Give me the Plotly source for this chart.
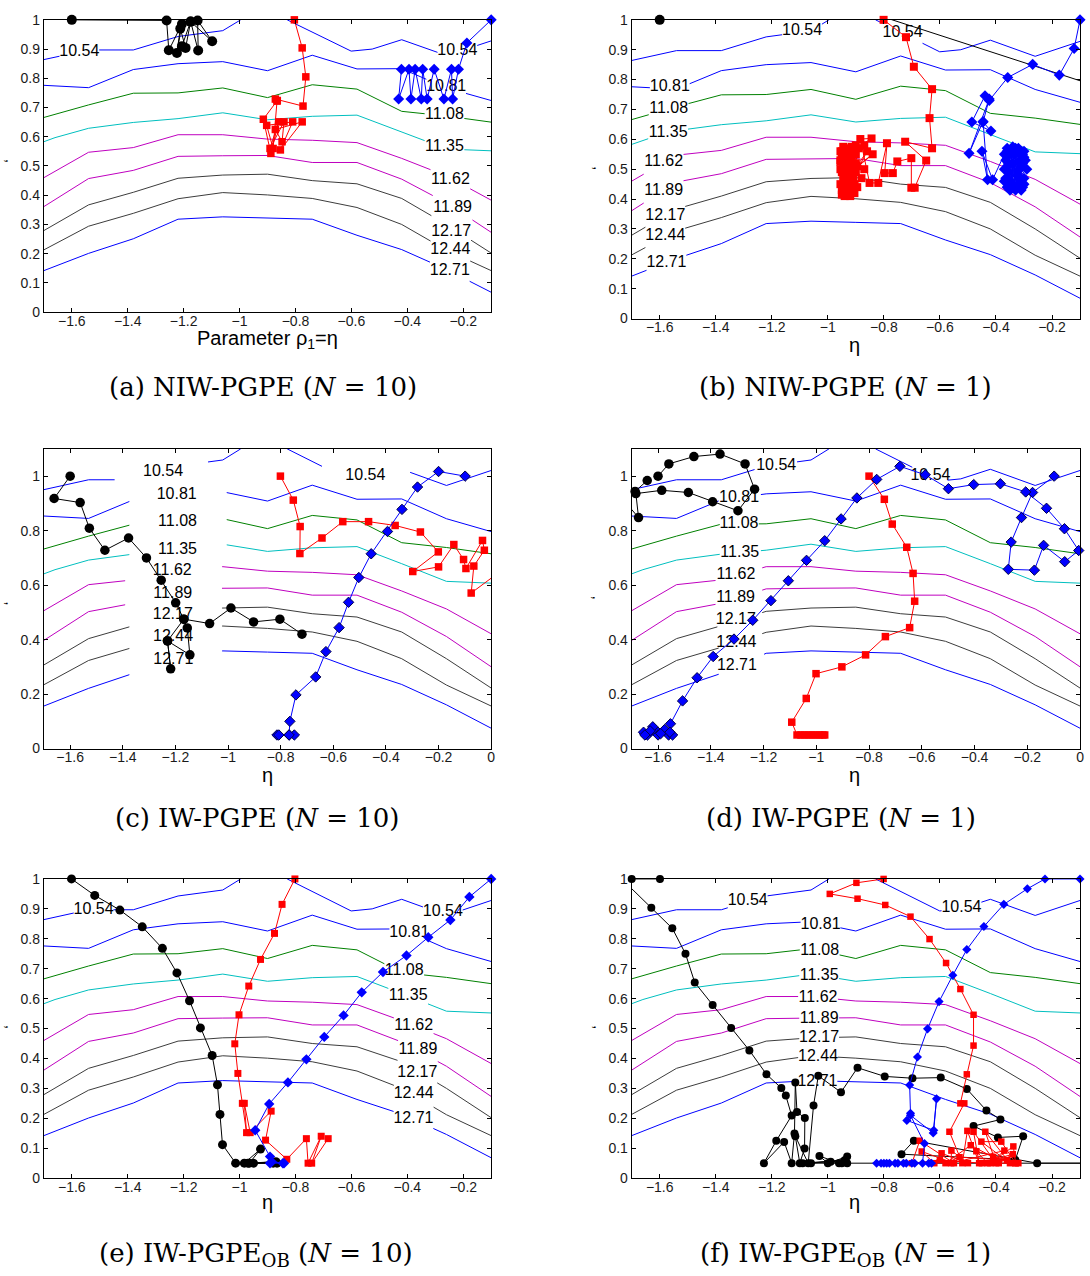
import numpy as np
import plotly.graph_objects as go

W, H = 1090, 1276

# ---------------------------------------------------------------- cost surface
LEVELS = [10.54, 10.81, 11.08, 11.35, 11.62, 11.89, 12.17, 12.44, 12.71]
LEVEL_COLORS = ["#0000ff", "#0000ff", "#008000", "#00bfbf", "#bf00bf",
                "#bf00bf", "#3c3c3c", "#3c3c3c", "#0000ff"]

# contour branches on the 11-column evaluation grid:
# (level index, grid column, fraction of the sigma span)
COLS = list(range(11))
CONTOUR_BRANCHES = [
    (0, [0, 1, 2, 3, 4, 4.4], [0.864, 0.897, 0.897, 0.943, 0.963, 1.0]),
    (0, [5.44, 6.87, 7.34, 8, 9, 10], [1.0, 0.893, 0.900, 0.932, 0.878, 0.928]),
    (1, COLS, [0.776, 0.768, 0.830, 0.850, 0.857, 0.826, 0.879, 0.832, 0.833, 0.767, 0.724]),
    (2, COLS, [0.666, 0.709, 0.749, 0.750, 0.767, 0.734, 0.778, 0.763, 0.687, 0.671, 0.650]),
    (3, [0, 0.25, 1, 2, 3, 4, 5, 6, 7, 8, 9, 10],
        [0.583, 0.597, 0.629, 0.649, 0.662, 0.682, 0.658, 0.670, 0.674, 0.617, 0.558, 0.552]),
    (4, COLS, [0.460, 0.547, 0.563, 0.607, 0.607, 0.592, 0.588, 0.580, 0.526, 0.466, 0.383]),
    (5, COLS, [0.361, 0.457, 0.485, 0.533, 0.535, 0.536, 0.512, 0.512, 0.455, 0.374, 0.273]),
    (6, COLS, [0.279, 0.367, 0.410, 0.458, 0.469, 0.472, 0.450, 0.439, 0.389, 0.300, 0.202]),
    (7, COLS, [0.213, 0.294, 0.338, 0.388, 0.409, 0.401, 0.389, 0.358, 0.300, 0.212, 0.142]),
    (8, COLS, [0.142, 0.201, 0.251, 0.318, 0.326, 0.322, 0.318, 0.263, 0.214, 0.146, 0.068]),
]

# contour labels: (level index, eta, sigma)
A_LABELS = [(0, -1.573, 0.889), (0, -0.221, 0.893), (1, -0.261, 0.769), (2, -0.267, 0.673),
            (3, -0.267, 0.564), (4, -0.246, 0.452), (5, -0.238, 0.355), (6, -0.243, 0.275),
            (7, -0.246, 0.213), (8, -0.248, 0.141)]
B_LABELS = [(0, -1.092, 0.964), (0, -0.733, 0.956), (1, -1.564, 0.774), (2, -1.568, 0.700),
            (3, -1.570, 0.620), (4, -1.586, 0.523), (5, -1.586, 0.427), (6, -1.580, 0.344),
            (7, -1.580, 0.276), (8, -1.576, 0.187)]
C_LABELS = [(0, -1.247, 1.017), (0, -0.478, 1.002), (1, -1.195, 0.930), (2, -1.192, 0.830),
            (3, -1.192, 0.728), (4, -1.212, 0.650), (5, -1.210, 0.568), (6, -1.210, 0.489),
            (7, -1.209, 0.411), (8, -1.208, 0.326)]
D_LABELS = [(0, -1.152, 1.036), (0, -0.567, 1.002), (1, -1.293, 0.920), (2, -1.293, 0.825),
            (3, -1.290, 0.719), (4, -1.305, 0.636), (5, -1.306, 0.553), (6, -1.305, 0.471),
            (7, -1.303, 0.389), (8, -1.301, 0.304)]
E_LABELS = [(0, -1.522, 0.895), (0, -0.273, 0.888), (1, -0.393, 0.818), (2, -0.411, 0.691),
            (3, -0.397, 0.610), (4, -0.377, 0.507), (5, -0.362, 0.428), (6, -0.364, 0.353),
            (7, -0.377, 0.281), (8, -0.378, 0.196)]
F_LABELS = [(0, -1.286, 0.926), (0, -0.523, 0.902), (1, -1.026, 0.847), (2, -1.029, 0.759),
            (3, -1.031, 0.676), (4, -1.035, 0.603), (5, -1.031, 0.533), (6, -1.031, 0.469),
            (7, -1.035, 0.405), (8, -1.037, 0.320)]

# wider inline-label gaps of the coarse IW grid: level -> [(eta_from, eta_to)]
C_GAPS = {0: [(-1.431, -1.076), (-0.643, -0.308)], 1: [(-1.375, -1.005)],
          2: [(-1.375, -1.005)], 3: [(-1.375, -1.005)], 4: [(-1.391, -1.023)],
          5: [(-1.391, -1.023)], 6: [(-1.375, -1.023)], 7: [(-1.375, -1.023)],
          8: [(-1.375, -1.023)]}
D_GAPS = {0: [(-1.234, -1.073), (-0.636, -0.502)], 1: [(-1.370, -1.210)],
          2: [(-1.366, -1.218)], 3: [(-1.366, -1.210)], 4: [(-1.382, -1.205)],
          5: [(-1.382, -1.205)], 6: [(-1.375, -1.205)], 7: [(-1.370, -1.205)],
          8: [(-1.370, -1.198)]}

# ---------------------------------------------------------------- trajectories (eta, sigma)
A_BLACK = [(-1.600, 1.000), (-1.261, 0.998), (-1.253, 0.896), (-1.206, 0.986), (-1.224, 0.887),
           (-1.212, 0.970), (-1.193, 0.904), (-1.175, 0.994), (-1.148, 0.895), (-1.150, 0.998),
           (-1.098, 0.927), (-1.175, 0.994), (-1.206, 0.910)]
A_RED = [(-0.804, 1.000), (-0.776, 0.904), (-0.763, 0.805), (-0.773, 0.705), (-0.872, 0.729),
         (-0.865, 0.724), (-0.915, 0.660), (-0.888, 0.543), (-0.860, 0.651), (-0.891, 0.560),
         (-0.841, 0.651), (-0.848, 0.583), (-0.872, 0.625), (-0.776, 0.651), (-0.854, 0.555),
         (-0.810, 0.651), (-0.903, 0.639), (-0.880, 0.560), (-0.866, 0.722)]
A_BLUE = [(-0.100, 1.000), (-0.187, 0.921), (-0.217, 0.831), (-0.238, 0.729), (-0.242, 0.831),
          (-0.269, 0.729), (-0.304, 0.831), (-0.329, 0.729), (-0.345, 0.831), (-0.350, 0.729),
          (-0.372, 0.831), (-0.387, 0.729), (-0.394, 0.831), (-0.431, 0.729), (-0.421, 0.831)]

B_BLACK = [(-1.600, 1.000), (-1.000, 1.070), (0.150, 0.720)]
B_RED = [(-0.801, 1.000), (-0.721, 0.942), (-0.693, 0.843), (-0.628, 0.768), (-0.637, 0.671),
         (-0.628, 0.570), (-0.724, 0.592), (-0.649, 0.529), (-0.690, 0.438), (-0.702, 0.438),
         (-0.702, 0.537), (-0.752, 0.526), (-0.768, 0.487), (-0.797, 0.487), (-0.789, 0.587),
         (-0.820, 0.454), (-0.851, 0.454), (-0.884, 0.601), (-0.844, 0.603), (-0.930, 0.550),
         (-0.950, 0.430), (-0.910, 0.560), (-0.940, 0.410), (-0.900, 0.520), (-0.955, 0.500),
         (-0.920, 0.440), (-0.890, 0.570), (-0.945, 0.470), (-0.905, 0.420), (-0.935, 0.570),
         (-0.870, 0.500), (-0.950, 0.540), (-0.915, 0.460), (-0.860, 0.560), (-0.940, 0.450),
         (-0.900, 0.580), (-0.925, 0.420), (-0.880, 0.470), (-0.950, 0.560), (-0.910, 0.500),
         (-0.840, 0.550), (-0.930, 0.480), (-0.895, 0.440), (-0.945, 0.520), (-0.870, 0.580),
         (-0.920, 0.530), (-0.955, 0.450), (-0.900, 0.490), (-0.930, 0.420), (-0.915, 0.545),
         (-0.950, 0.415), (-0.925, 0.505), (-0.945, 0.575), (-0.955, 0.530), (-0.930, 0.510),
         (-0.915, 0.430), (-0.945, 0.430), (-0.900, 0.550), (-0.935, 0.460), (-0.955, 0.560),
         (-0.910, 0.470), (-0.940, 0.540), (-0.925, 0.565), (-0.905, 0.450), (-0.950, 0.490),
         (-0.920, 0.410), (-0.935, 0.520), (-0.895, 0.510), (-0.945, 0.440), (-0.915, 0.575),
         (-0.930, 0.445), (-0.955, 0.525)]
B_BLUE = [(-0.100, 1.000), (-0.121, 0.904), (-0.174, 0.815), (-0.269, 0.851), (-0.358, 0.807),
          (-0.424, 0.730), (-0.439, 0.746), (-0.486, 0.658), (-0.418, 0.628), (-0.446, 0.658),
          (-0.424, 0.735), (-0.496, 0.553), (-0.446, 0.660), (-0.430, 0.465), (-0.450, 0.560),
          (-0.412, 0.465), (-0.370, 0.550), (-0.350, 0.430), (-0.330, 0.570), (-0.360, 0.440),
          (-0.310, 0.560), (-0.340, 0.450), (-0.300, 0.540), (-0.350, 0.460), (-0.320, 0.570),
          (-0.365, 0.470), (-0.305, 0.550), (-0.330, 0.430), (-0.295, 0.530), (-0.345, 0.560),
          (-0.315, 0.440), (-0.360, 0.560), (-0.300, 0.470), (-0.340, 0.520), (-0.320, 0.450),
          (-0.370, 0.500), (-0.310, 0.430), (-0.350, 0.550), (-0.325, 0.480), (-0.300, 0.560),
          (-0.355, 0.520), (-0.315, 0.500), (-0.360, 0.570), (-0.335, 0.440), (-0.305, 0.520),
          (-0.370, 0.460), (-0.310, 0.545), (-0.345, 0.435), (-0.325, 0.560), (-0.355, 0.490),
          (-0.300, 0.450), (-0.340, 0.575), (-0.365, 0.530), (-0.315, 0.465), (-0.335, 0.550),
          (-0.290, 0.500), (-0.350, 0.445), (-0.320, 0.525), (-0.360, 0.510), (-0.305, 0.440)]

C_BLACK = [(-1.600, 1.000), (-1.661, 0.918), (-1.562, 0.903), (-1.527, 0.809), (-1.468, 0.728),
           (-1.378, 0.773), (-1.310, 0.700), (-1.254, 0.618), (-1.199, 0.535), (-1.168, 0.475),
           (-1.155, 0.443), (-1.145, 0.344), (-1.230, 0.395), (-1.218, 0.293), (-1.230, 0.395),
           (-1.168, 0.475), (-1.070, 0.459), (-0.989, 0.516), (-0.903, 0.465), (-0.803, 0.475),
           (-0.719, 0.420)]
C_RED = [(-0.801, 1.000), (-0.752, 0.912), (-0.726, 0.815), (-0.727, 0.716), (-0.643, 0.773),
         (-0.564, 0.833), (-0.466, 0.833), (-0.365, 0.819), (-0.269, 0.795), (-0.201, 0.722),
         (-0.298, 0.650), (-0.200, 0.667), (-0.142, 0.749), (-0.105, 0.694), (-0.096, 0.661),
         (-0.033, 0.764), (-0.026, 0.728), (-0.066, 0.670), (-0.076, 0.571), (0.020, 0.640)]
C_BLUE = [(-0.099, 1.000), (-0.200, 1.017), (-0.280, 0.960), (-0.339, 0.878), (-0.394, 0.797),
          (-0.456, 0.715), (-0.503, 0.628), (-0.542, 0.537), (-0.578, 0.444), (-0.628, 0.356),
          (-0.667, 0.263), (-0.742, 0.197), (-0.765, 0.100), (-0.768, 0.050), (-0.814, 0.050),
          (-0.748, 0.050), (-0.807, 0.050), (-0.768, 0.050)]

D_BLACK = [(-1.600, 1.000), (-1.559, 1.045), (-1.464, 1.072), (-1.365, 1.081), (-1.270, 1.045),
           (-1.234, 0.952), (-1.297, 0.873), (-1.393, 0.906), (-1.485, 0.940), (-1.586, 0.948),
           (-1.684, 0.936), (-1.674, 0.848), (-1.720, 0.900), (-1.687, 0.944), (-1.641, 0.984)]
D_RED = [(-0.800, 1.000), (-0.742, 0.915), (-0.712, 0.824), (-0.657, 0.739), (-0.633, 0.643),
         (-0.627, 0.541), (-0.646, 0.444), (-0.738, 0.411), (-0.813, 0.344), (-0.903, 0.300),
         (-1.001, 0.275), (-1.038, 0.184), (-1.093, 0.097), (-1.073, 0.050), (-1.058, 0.050),
         (-1.044, 0.050), (-1.030, 0.050), (-1.016, 0.050), (-1.002, 0.050), (-0.988, 0.050),
         (-0.975, 0.050), (-0.968, 0.050)]
D_BLUE = [(-0.098, 1.000), (-0.180, 0.940), (-0.222, 0.848), (-0.261, 0.758), (-0.272, 0.658),
          (-0.173, 0.655), (-0.138, 0.746), (-0.058, 0.686), (-0.005, 0.727), (-0.059, 0.807),
          (-0.127, 0.882), (-0.206, 0.942), (-0.302, 0.972), (-0.403, 0.969), (-0.499, 0.954),
          (-0.587, 1.005), (-0.683, 1.036), (-0.771, 0.988), (-0.846, 0.920), (-0.906, 0.843),
          (-0.968, 0.763), (-1.037, 0.691), (-1.106, 0.616), (-1.172, 0.543), (-1.241, 0.471),
          (-1.312, 0.402), (-1.391, 0.338), (-1.452, 0.260), (-1.507, 0.175), (-1.553, 0.091),
          (-1.560, 0.050), (-1.600, 0.060), (-1.640, 0.050), (-1.620, 0.080), (-1.655, 0.060),
          (-1.600, 0.050), (-1.575, 0.070), (-1.630, 0.065), (-1.545, 0.050), (-1.650, 0.050),
          (-1.590, 0.055), (-1.555, 0.060)]

E_BLACK = [(-1.601, 1.000), (-1.518, 0.945), (-1.428, 0.896), (-1.348, 0.840), (-1.276, 0.768),
           (-1.224, 0.686), (-1.179, 0.593), (-1.140, 0.502), (-1.098, 0.410), (-1.079, 0.312),
           (-1.070, 0.213), (-1.061, 0.112), (-1.014, 0.050), (-0.983, 0.050), (-0.925, 0.097),
           (-0.965, 0.050), (-0.880, 0.050), (-0.970, 0.050), (-0.870, 0.055), (-0.950, 0.050),
           (-0.866, 0.050)]
E_RED = [(-0.802, 1.000), (-0.848, 0.915), (-0.875, 0.818), (-0.925, 0.731), (-0.967, 0.642),
         (-1.002, 0.546), (-1.017, 0.449), (-1.006, 0.350), (-0.990, 0.250), (-0.975, 0.152),
         (-0.983, 0.250), (-0.962, 0.152), (-0.887, 0.224), (-0.907, 0.127), (-0.831, 0.063),
         (-0.761, 0.132), (-0.755, 0.050), (-0.708, 0.140), (-0.742, 0.050), (-0.683, 0.132)]
E_BLUE = [(-0.100, 1.000), (-0.178, 0.940), (-0.246, 0.863), (-0.325, 0.805), (-0.403, 0.744),
          (-0.487, 0.689), (-0.563, 0.621), (-0.628, 0.544), (-0.697, 0.472), (-0.761, 0.397),
          (-0.827, 0.320), (-0.894, 0.248), (-0.944, 0.160), (-0.891, 0.072), (-0.891, 0.050),
          (-0.841, 0.050), (-0.885, 0.055), (-0.845, 0.050)]

F_BLACK = [(-1.599, 1.000), (-1.700, 1.000), (-1.730, 0.995), (-1.630, 0.904), (-1.555, 0.835),
           (-1.508, 0.750), (-1.475, 0.654), (-1.411, 0.579), (-1.345, 0.502), (-1.280, 0.427),
           (-1.219, 0.347), (-1.166, 0.301), (-1.150, 0.276), (-1.129, 0.209), (-1.184, 0.125),
           (-1.228, 0.050), (-1.156, 0.121), (-1.129, 0.050), (-1.119, 0.149), (-1.116, 0.320),
           (-1.110, 0.221), (-1.082, 0.201), (-1.083, 0.099), (-1.100, 0.050), (-1.116, 0.140),
           (-1.070, 0.050), (-1.051, 0.243), (-1.034, 0.342), (-0.953, 0.287), (-0.894, 0.369),
           (-0.797, 0.340), (-0.698, 0.334), (-0.597, 0.336), (-0.504, 0.298), (-0.434, 0.226),
           (-0.384, 0.196), (-0.480, 0.174), (-0.393, 0.136), (-0.303, 0.140), (-0.331, 0.061),
           (-0.737, 0.080), (-0.693, 0.125), (-0.253, 0.050), (0.020, 0.050), (-0.931, 0.050),
           (-0.931, 0.072), (-1.000, 0.050), (-1.030, 0.074), (-0.960, 0.050), (-1.060, 0.050),
           (-0.940, 0.060), (-1.090, 0.050), (-0.990, 0.055), (-0.950, 0.050)]
F_RED = [(-0.801, 1.000), (-0.898, 0.987), (-0.993, 0.950), (-0.894, 0.934), (-0.795, 0.913),
         (-0.705, 0.874), (-0.637, 0.799), (-0.578, 0.719), (-0.527, 0.632), (-0.480, 0.546),
         (-0.480, 0.443), (-0.504, 0.347), (-0.527, 0.250), (-0.513, 0.250), (-0.566, 0.155),
         (-0.520, 0.050), (-0.502, 0.158), (-0.460, 0.050), (-0.480, 0.155), (-0.400, 0.050),
         (-0.438, 0.155), (-0.350, 0.050), (-0.452, 0.122), (-0.381, 0.122), (-0.330, 0.050),
         (-0.338, 0.106), (-0.420, 0.050), (-0.370, 0.092), (-0.560, 0.050), (-0.559, 0.092),
         (-0.500, 0.050), (-0.594, 0.083), (-0.620, 0.050), (-0.665, 0.089), (-0.550, 0.050),
         (-0.672, 0.125), (-0.700, 0.050), (-0.600, 0.060), (-0.450, 0.050), (-0.340, 0.080),
         (-0.390, 0.050), (-0.320, 0.050), (-0.470, 0.090), (-0.430, 0.050), (-0.360, 0.060),
         (-0.530, 0.070), (-0.580, 0.050), (-0.490, 0.110), (-0.410, 0.070), (-0.330, 0.050)]
F_BLUE = [(-0.100, 1.000), (-0.225, 1.000), (-0.288, 0.967), (-0.372, 0.915), (-0.443, 0.841),
          (-0.504, 0.764), (-0.554, 0.678), (-0.603, 0.590), (-0.644, 0.499), (-0.680, 0.405),
          (-0.708, 0.311), (-0.705, 0.217), (-0.718, 0.193), (-0.622, 0.160), (-0.612, 0.265),
          (-0.624, 0.151), (-0.705, 0.210), (-0.655, 0.116), (-0.662, 0.050), (-0.700, 0.050),
          (-0.750, 0.050), (-0.800, 0.050), (-0.826, 0.050), (-0.780, 0.050), (-0.720, 0.050),
          (-0.760, 0.050), (-0.690, 0.050), (-0.810, 0.050), (-0.640, 0.050), (-0.730, 0.050),
          (-0.790, 0.050), (-0.630, 0.050)]

CAPTIONS = ["(a) NIW-PGPE (<i>N</i> = 10)", "(b) NIW-PGPE (<i>N</i> = 1)",
            "(c) IW-PGPE (<i>N</i> = 10)", "(d) IW-PGPE (<i>N</i> = 1)",
            "(e) IW-PGPE<sub>OB</sub> (<i>N</i> = 10)", "(f) IW-PGPE<sub>OB</sub> (<i>N</i> = 1)"]
X_TITLES = ["Parameter ρ<sub>1</sub>=η", "η", "η", "η", "η", "η"]


# ---------------------------------------------------------------- layout helpers
def px_x(x):
    return x / W


def px_y(y):
    return 1 - y / H


LEFT_DOM = [px_x(44), px_x(493)]
RIGHT_DOM = [px_x(634), px_x(1084)]

PANELS = [
    dict(labels=A_LABELS, gaps=None, black=A_BLACK, red=A_RED, blue=A_BLUE,
         eta=(-1.7, -0.1), smax=1.0, ydtick=0.1, xdom=LEFT_DOM, ydom=[px_y(308), px_y(12)],
         sizes=(10, 7.5, 8.5), edge=None, cap=(264, 384), xt=(268, 336), yl=(11, 155)),
    dict(labels=B_LABELS, gaps=None, black=B_BLACK, red=B_RED, blue=B_BLUE,
         eta=(-1.7, -0.1), smax=1.0, ydtick=0.1, xdom=RIGHT_DOM, ydom=[px_y(314.5), px_y(12)],
         sizes=(10, 8, 8.5), edge=None, cap=(849, 384), xt=(858, 341), yl=(601, 162)),
    dict(labels=C_LABELS, gaps=C_GAPS, black=C_BLACK, red=C_RED, blue=C_BLUE,
         eta=(-1.7, 0.0), smax=1.1, ydtick=0.2, xdom=LEFT_DOM, ydom=[px_y(750), px_y(446.5)],
         sizes=(9.5, 7.5, 8), edge="#00004a", cap=(258, 820), xt=(268, 777), yl=(11, 603)),
    dict(labels=D_LABELS, gaps=D_GAPS, black=D_BLACK, red=D_RED, blue=D_BLUE,
         eta=(-1.7, 0.0), smax=1.1, ydtick=0.2, xdom=RIGHT_DOM, ydom=[px_y(750), px_y(446.5)],
         sizes=(9.5, 7.5, 8), edge="#00004a", cap=(844, 820), xt=(858, 777), yl=(601, 597)),
    dict(labels=E_LABELS, gaps=None, black=E_BLACK, red=E_RED, blue=E_BLUE,
         eta=(-1.7, -0.1), smax=1.0, ydtick=0.1, xdom=LEFT_DOM, ydom=[px_y(1185), px_y(882)],
         sizes=(9, 7, 8), edge=None, cap=(257, 1262), xt=(268, 1209), yl=(11, 1032)),
    dict(labels=F_LABELS, gaps=None, black=F_BLACK, red=F_RED, blue=F_BLUE,
         eta=(-1.7, -0.1), smax=1.0, ydtick=0.1, xdom=RIGHT_DOM, ydom=[px_y(1185), px_y(882)],
         sizes=(8, 6.5, 7), edge=None, cap=(849, 1262), xt=(858, 1209), yl=(601, 1032)),
]

LABEL_HALF_GAP = 0.071   # eta half-width of the line break under an inline label
TICK_FONT = dict(family="Liberation Sans, Arial, sans-serif", size=14, color="#1a1a1a")
LABEL_FONT = dict(family="Liberation Sans, Arial, sans-serif", size=16, color="black")


def split_at_gaps(xs, ys, gaps):
    xs = np.asarray(xs, float)
    ys = np.asarray(ys, float)
    cuts = [g for a, b in gaps for g in (a, b) if xs[0] < g < xs[-1]]
    grid = np.unique(np.concatenate([xs, cuts]))
    vals = np.interp(grid, xs, ys)
    out_x, out_y, prev = [], [], None
    for x, y in zip(grid, vals):
        if any(a < x < b for a, b in gaps):
            continue
        if prev is not None and any(prev <= a and b <= x for a, b in gaps):
            out_x.append(None)
            out_y.append(None)
        out_x.append(float(x))
        out_y.append(float(y))
        prev = x
    return out_x, out_y


fig = go.Figure()
layout = dict(width=W, height=H, margin=dict(l=0, r=0, t=0, b=0),
              paper_bgcolor="white", plot_bgcolor="white", showlegend=False)
annotations = []

for i, p in enumerate(PANELS):
    sfx = "" if i == 0 else str(i + 1)
    xa, ya = "x" + sfx, "y" + sfx
    e0, e1 = p["eta"]
    du = (e1 - e0) / 10.0

    # line breaks under the inline labels
    if p["gaps"] is not None:
        gaps = p["gaps"]
    else:
        gaps = {}
        for lvl, ex, _ in p["labels"]:
            gaps.setdefault(lvl, []).append((ex - LABEL_HALF_GAP, ex + LABEL_HALF_GAP))

    for lvl, cols, frac in CONTOUR_BRANCHES:
        eta = e0 + np.asarray(cols, float) * du
        sig = np.asarray(frac, float) * p["smax"]
        lx, ly = split_at_gaps(eta, sig, gaps.get(lvl, []))
        fig.add_trace(go.Scatter(x=lx, y=ly, mode="lines", xaxis=xa, yaxis=ya,
                                 line=dict(color=LEVEL_COLORS[lvl], width=1),
                                 hoverinfo="skip"))

    fig.add_trace(go.Scatter(
        x=[l[1] for l in p["labels"]], y=[l[2] for l in p["labels"]],
        text=[f"{LEVELS[l[0]]:.2f}" for l in p["labels"]],
        mode="text", textposition="middle center", textfont=LABEL_FONT,
        cliponaxis=False, xaxis=xa, yaxis=ya, hoverinfo="skip"))

    cs, ss, ds = p["sizes"]
    series = [(p["black"], "black", "circle", cs, None),
              (p["red"], "#ff0000", "square", ss, None),
              (p["blue"], "#0000ff", "diamond", ds, p["edge"])]
    for pts, color, sym, size, edge in series:
        tx = [q[0] for q in pts]
        ty = [q[1] for q in pts]
        fig.add_trace(go.Scatter(x=tx, y=ty, mode="lines", xaxis=xa, yaxis=ya,
                                 line=dict(color=color, width=1), hoverinfo="skip"))
        inside = [(x, y) for x, y in pts
                  if e0 - 1e-6 <= x <= e1 + 1e-6 and 0 <= y <= p["smax"] + 1e-6]
        fig.add_trace(go.Scatter(
            x=[q[0] for q in inside], y=[q[1] for q in inside], mode="markers",
            xaxis=xa, yaxis=ya, cliponaxis=False, hoverinfo="skip",
            marker=dict(symbol=sym, size=size, color=color,
                        line=dict(color=edge if edge else color, width=1 if edge else 0))))

    axis_common = dict(showline=True, linecolor="black", linewidth=1, mirror="ticks",
                       ticks="inside", ticklen=4, tickwidth=1, tickcolor="black",
                       showgrid=False, zeroline=False, tickfont=TICK_FONT,
                       tickmode="linear", tick0=0)
    layout["xaxis" + sfx] = dict(axis_common, domain=p["xdom"], range=[e0, e1],
                                 dtick=0.2, anchor=ya, ticklabelstandoff=-4)
    layout["yaxis" + sfx] = dict(axis_common, domain=p["ydom"], range=[0, p["smax"]],
                                 dtick=p["ydtick"], anchor=xa)

    annotations.append(dict(text=CAPTIONS[i], x=px_x(p["cap"][0]), y=px_y(p["cap"][1]),
                            xref="paper", yref="paper", showarrow=False,
                            xanchor="center", yanchor="middle",
                            font=dict(family="DejaVu Serif, serif", size=26, color="black")))
    annotations.append(dict(text=X_TITLES[i], x=px_x(p["xt"][0]), y=px_y(p["xt"][1]),
                            xref="paper", yref="paper", showarrow=False,
                            xanchor="center", yanchor="middle",
                            font=dict(family="Liberation Sans, Arial, sans-serif", size=20,
                                      color="black")))
    annotations.append(dict(text=",", x=px_x(p["yl"][0]), y=px_y(p["yl"][1]),
                            xref="paper", yref="paper", showarrow=False, textangle=90,
                            xanchor="center", yanchor="middle",
                            font=dict(family="Liberation Sans, Arial, sans-serif", size=14,
                                      color="black")))

layout["annotations"] = annotations
fig.update_layout(**layout)
fig.write_html("out.html")
